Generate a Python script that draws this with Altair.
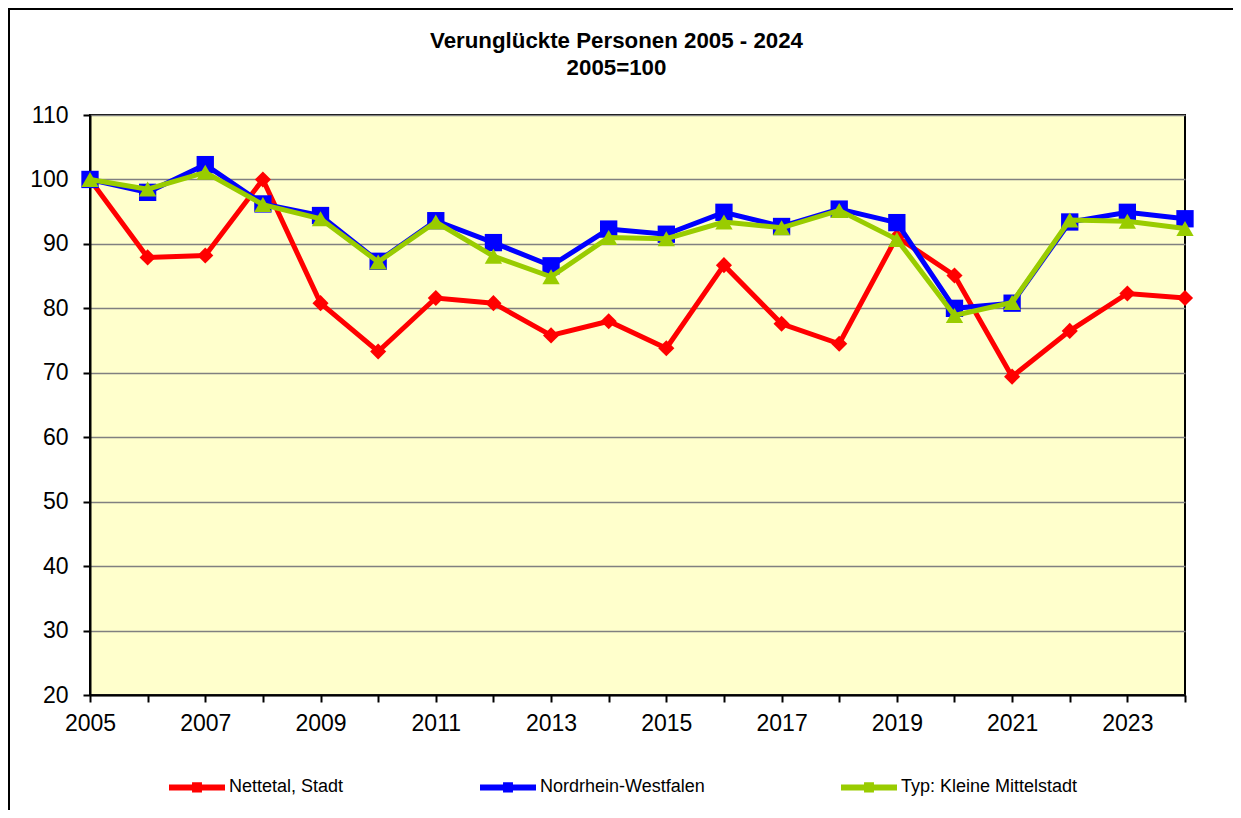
import altair as alt
import pandas as pd

years = list(range(2005, 2025))
series_names = ["Nettetal, Stadt", "Nordrhein-Westfalen", "Typ: Kleine Mittelstadt"]
nettetal = [100.0, 87.9, 88.2, 100.0, 80.8, 73.3, 81.6, 80.8, 75.8, 78.0,
            73.8, 86.7, 77.6, 74.5, 91.1, 85.1, 69.4, 76.5, 82.3, 81.6]
nrw = [100.0, 98.0, 102.3, 96.2, 94.4, 87.3, 93.6, 90.2, 86.6, 92.3,
       91.5, 94.9, 92.7, 95.4, 93.3, 80.0, 80.8, 93.4, 94.9, 93.9]
typ = [100.0, 98.5, 101.1, 96.1, 93.9, 87.2, 93.4, 88.1, 84.9, 91.0,
       90.8, 93.4, 92.5, 95.2, 90.7, 78.9, 80.9, 93.7, 93.5, 92.4]
title_lines = ["Verunglückte Personen 2005 - 2024", "2005=100"]
colors = ["#FF0000", "#0000FF", "#99CC00"]
shapes = ["diamond", "square", "triangle-up"]
sizes = [260, 300, 300]

rows = []
for name, vals in zip(series_names, [nettetal, nrw, typ]):
    for y, v in zip(years, vals):
        rows.append({"Jahr": y, "Wert": v, "Serie": name})
df = pd.DataFrame(rows)

FONT = "Liberation Sans"

x_enc = alt.X("Jahr:Q",
              scale=alt.Scale(domain=[2005, 2024], nice=False, zero=False),
              axis=alt.Axis(values=years, format="d", title=None,
                            labelExpr="datum.value % 2 == 1 ? datum.value : ''",
                            grid=False, domainColor="black", domainWidth=2,
                            tickColor="black", tickWidth=2, tickSize=7,
                            labelFontSize=23, labelFont=FONT, labelColor="black",
                            labelPadding=10, labelFlush=False))
y_enc = alt.Y("Wert:Q",
              scale=alt.Scale(domain=[20, 110], nice=False, zero=False),
              axis=alt.Axis(values=list(range(20, 111, 10)), title=None,
                            grid=True, gridColor="#808080", gridWidth=1.5,
                            domainColor="black", domainWidth=2,
                            tickColor="black", tickWidth=2, tickSize=7,
                            labelFontSize=23, labelFont=FONT, labelColor="black",
                            labelPadding=15))

color_scale = alt.Scale(domain=series_names, range=colors)

one = pd.DataFrame({"a": [0]})
layers = []
frame = alt.Chart(one).mark_rect(
    fill="transparent", fillOpacity=0, stroke="black", strokeWidth=2).encode(
    x=alt.value(-81), x2=alt.value(1200), y=alt.value(-106), y2=alt.value(760))
layers.append(frame)

for i, line_text in enumerate(title_lines):
    t = alt.Chart(one).mark_text(
        text=line_text, font=FONT, fontSize=22.3, fontWeight="bold",
        color="black", align="center", baseline="alphabetic").encode(
        x=alt.value(526.5), y=alt.value(-67.5 + 27.5 * i))
    layers.append(t)

legend_symbol = "M-1,0H1M-0.07,-0.08H0.07V0.08H-0.07Z"

for i, name in enumerate(series_names):
    base = alt.Chart(df).transform_filter(alt.datum.Serie == name)
    line = base.mark_line(strokeWidth=5, strokeJoin="miter").encode(
        x=x_enc, y=y_enc,
        color=alt.Color("Serie:N", scale=color_scale, sort=series_names,
                        legend=alt.Legend(
                            title=None, orient="none", direction="horizontal",
                            legendX=76, legendY=641, symbolType=legend_symbol,
                            symbolStrokeWidth=6, symbolSize=3136,
                            labelFont=FONT, labelFontSize=18, labelColor="black",
                            columnPadding=124, labelOffset=1, padding=0,
                            labelLimit=400)))
    pts = base.mark_point(filled=True, shape=shapes[i], size=sizes[i],
                          color=colors[i], opacity=1).encode(x=x_enc, y=y_enc)
    layers += [line, pts]

chart = alt.layer(*layers).properties(
    width=1095, height=580,
    padding={"left": 82, "top": 107, "right": 48, "bottom": 115},
    autosize=alt.AutoSizeParams(type="none"),
).configure(background="white").configure_view(
    fill="#FFFFCC", stroke="black", strokeWidth=2)

chart.save("out.html", embed_options={"renderer": "svg", "actions": False})
